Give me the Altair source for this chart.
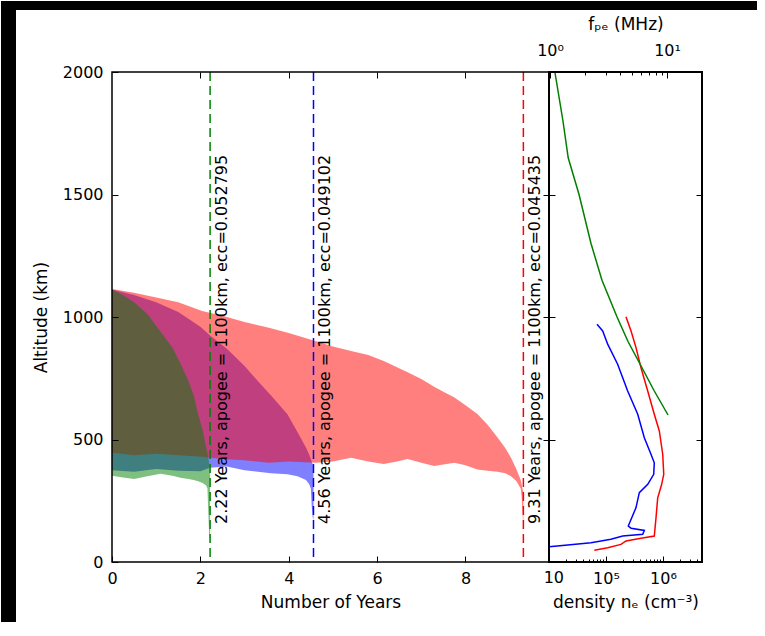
import altair as alt
import pandas as pd

# ---------------- data ----------------
# decay envelopes (years, upper altitude, lower altitude) in km
green_years = [0, 0.25, 0.5, 0.8, 1.1, 1.37, 1.55, 1.73, 1.85, 1.95, 2.05, 2.13, 2.16, 2.18, 2.20, 2.22]
green_top = [1112, 1090, 1060, 1012, 940, 875, 810, 739, 680, 603, 540, 467, 445, 425, 400, 380]
green_bottom = [352, 345, 339, 350, 360, 352, 344, 339, 335, 330, 322, 312, 300, 200, 110, 80]

blue_years = [0, 0.5, 1.0, 1.5, 2.0, 2.22, 2.6, 3.0, 3.3, 3.6, 3.97, 4.2, 4.39, 4.46, 4.50, 4.52, 4.54, 4.56]
blue_top = [1112, 1090, 1060, 1020, 960, 925, 870, 800, 739, 680, 603, 530, 467, 440, 420, 410, 400, 390]
blue_bottom = [375, 368, 380, 372, 370, 385, 390, 375, 368, 362, 358, 350, 335, 318, 300, 230, 185, 170]

red_years = [0, 0.5, 1.0, 1.5, 2.04, 2.5, 3.0, 3.55, 4.0, 4.6, 5.0, 5.41, 5.8, 6.15, 6.45,
             6.69, 7.0, 7.29, 7.5, 7.75, 8.0, 8.27, 8.5, 8.73, 8.9, 9.03, 9.15, 9.25, 9.27, 9.29, 9.31]
red_top = [1114, 1099, 1080, 1060, 1024, 1005, 980, 956, 935, 902, 880, 861, 845, 820, 795,
           775, 747, 715, 695, 671, 640, 604, 560, 507, 465, 426, 380, 335, 318, 300, 285]
red_bottom = [446, 436, 442, 436, 430, 420, 415, 405, 410, 405, 410, 426, 410, 400, 410,
              420, 405, 392, 398, 405, 395, 378, 372, 368, 362, 350, 331, 300, 270, 200, 140]

lifetimes = [2.22, 4.56, 9.31]
life_labels = ["2.22 Years, apogee = 1100km, ecc=0.052795",
               "4.56 Years, apogee = 1100km, ecc=0.049102",
               "9.31 Years, apogee = 1100km, ecc=0.045435"]
life_series = ["green", "blue", "red"]

# density profiles (cm^-3) vs altitude (km)
blue_ne = [6.95e4, 8.75e4, 1.07e5, 1.60e5, 2.40e5, 3.60e5, 4.70e5, 6.15e5, 7.03e5, 6.87e5, 5.40e5,
           3.84e5, 3.36e5, 2.46e5, 2.75e5, 4.70e5, 4.41e5, 1.96e5, 1.22e5, 5.46e4, 2.13e4, 1.01e4, 4.8e3]
blue_ne_alt = [970, 943, 889, 807, 698, 603, 507, 440, 405, 358, 317, 283, 222, 147, 138, 129, 113,
               106, 93, 79, 69, 62, 57]
red_ne = [2.24e5, 2.75e5, 3.36e5, 4.11e5, 5.39e5, 7.03e5, 8.61e5, 9.88e5, 1.03e6, 9.48e5, 8.07e5,
          7.54e5, 7.03e5, 4.11e5, 2.24e5, 1.83e5, 1.07e5, 6.24e4]
red_ne_alt = [1001, 943, 875, 793, 698, 603, 535, 440, 358, 317, 262, 181, 106, 97, 86, 72, 58, 48]
# plasma frequency profile (MHz) vs altitude (km)
green_fpe = [1.10, 1.29, 1.43, 1.77, 2.24, 2.78, 3.74, 4.64, 6.00, 7.74, 10.2]
green_fpe_alt = [2000, 1800, 1650, 1500, 1300, 1150, 1000, 900, 800, 700, 600]

# ticks
year_ticks = [0, 2, 4, 6, 8, 10]
alt_ticks = [0, 500, 1000, 1500, 2000]
density_major = [1e5, 1e6]
density_minor = [2e4, 3e4, 4e4, 5e4, 6e4, 7e4, 8e4, 9e4,
                 2e5, 3e5, 4e5, 5e5, 6e5, 7e5, 8e5, 9e5, 2e6, 3e6, 4e6]
fpe_major = [1, 10]
fpe_minor = [2, 3, 4, 5, 6, 7, 8, 9]

# ---------------- styles ----------------
COL = {"green": "#008000", "blue": "#0000ff", "red": "#ff0000"}
FONT = "DejaVu Sans"
W1, W2, H = 437, 153, 490
X_MAX = 9.89
DEN_DOM = [1e4, 4.83e6]
FPE_DOM = [0.98, 19.9]

xs = alt.Scale(domain=[0, X_MAX], nice=False, zero=False)
ys = alt.Scale(domain=[0, 2000], nice=False, zero=False)
dens = alt.Scale(type="log", domain=DEN_DOM, nice=False)
fpes = alt.Scale(type="log", domain=FPE_DOM, nice=False)

common = dict(domain=False, grid=False, labelFlush=False, labelOverlap=False, zindex=2)


def tick_axis(orient, values, size=6, **kw):
    return alt.Axis(orient=orient, values=values, labels=False, title=None,
                    tickSize=size, offset=-size, **common, **kw)


# ---------------- main panel ----------------
# dark frame bands of the original screenshot (top and left edges)
one = pd.DataFrame({"k": [0]})
band_top = alt.Chart(one).mark_rect(color="black").encode(
    x=alt.value(-111), x2=alt.value(W1), y=alt.value(-71), y2=alt.value(-62))
band_left = alt.Chart(one).mark_rect(color="black").encode(
    x=alt.value(-111), x2=alt.value(-96), y=alt.value(-71), y2=alt.value(550))
band_top_right = alt.Chart(one).mark_rect(color="black").encode(
    x=alt.value(0), x2=alt.value(208), y=alt.value(-71), y2=alt.value(-62))


def area_df(years, top, bottom):
    return pd.DataFrame({"year": years, "top": top, "bottom": bottom})


bottom_axis = alt.Axis(orient="bottom", values=year_ticks[:-1], format="d", title="Number of Years",
                       tickSize=6, offset=-6, labelPadding=8, titlePadding=8, **common)
left_axis = alt.Axis(orient="left", values=alt_ticks, format="d", title="Altitude (km)",
                     tickSize=6, offset=-6, labelPadding=9, titlePadding=12, **common)

blue_area = alt.Chart(area_df(blue_years, blue_top, blue_bottom)).mark_area(
    color=COL["blue"], opacity=0.5).encode(
    x=alt.X("year:Q", scale=xs, axis=bottom_axis),
    y=alt.Y("top:Q", scale=ys, axis=left_axis), y2="bottom:Q")
red_area = alt.Chart(area_df(red_years, red_top, red_bottom)).mark_area(
    color=COL["red"], opacity=0.5).encode(
    x=alt.X("year:Q", scale=xs, axis=tick_axis("top", year_ticks[1:-1])),
    y=alt.Y("top:Q", scale=ys, axis=tick_axis("right", alt_ticks[1:-1])), y2="bottom:Q")
green_area = alt.Chart(area_df(green_years, green_top, green_bottom)).mark_area(
    color=COL["green"], opacity=0.5).encode(
    x=alt.X("year:Q", scale=xs, axis=None),
    y=alt.Y("top:Q", scale=ys, axis=None), y2="bottom:Q")

life_df = pd.DataFrame({"x": lifetimes, "label": life_labels,
                        "c": [COL[s] for s in life_series]})
life_df["tx"] = life_df["x"] + 0.08
life_df["ty"] = 155

rules = alt.Chart(life_df).mark_rule(strokeDash=[9, 5], strokeWidth=1.5).encode(
    x=alt.X("x:Q", scale=xs, axis=None), color=alt.Color("c:N", scale=None))
texts = alt.Chart(life_df).mark_text(angle=270, align="left", baseline="top", fontSize=16,
                                     font=FONT, color="black").encode(
    x=alt.X("tx:Q", scale=xs, axis=None), y=alt.Y("ty:Q", scale=ys, axis=None), text="label:N")
ten = alt.Chart(pd.DataFrame({"x": [year_ticks[-1]], "t": [str(year_ticks[-1])]})).mark_text(
    baseline="top", align="center", fontSize=16, font=FONT, color="black").encode(
    x=alt.X("x:Q", scale=xs, axis=None), y=alt.value(H + 8), text="t:N")
frame1 = alt.Chart(pd.DataFrame({"x0": [0], "x1": [X_MAX], "y0": [0], "y1": [2000]})).mark_rect(
    fillOpacity=0, stroke="black", strokeWidth=1.5).encode(
    x=alt.X("x0:Q", scale=xs, axis=None), x2="x1:Q",
    y=alt.Y("y0:Q", scale=ys, axis=None), y2="y1:Q")

main = alt.layer(band_top, band_left, blue_area, red_area, green_area, rules, texts, ten,
                 frame1).resolve_axis(x="independent", y="independent").properties(width=W1, height=H)

# ---------------- density panel ----------------
def prof_df(xv, yv):
    return pd.DataFrame({"v": xv, "alt": yv, "i": list(range(len(xv)))})


dens_axis = alt.Axis(orient="bottom", values=density_major, title="density nₑ (cm⁻³)",
                     labelExpr="datum.value >= 1e6 ? '10⁶' : '10⁵'",
                     tickSize=6, offset=-6, labelPadding=8, titlePadding=8, **common)
fpe_axis = alt.Axis(orient="top", values=fpe_major, title="fₚₑ (MHz)",
                    labelExpr="datum.value >= 10 ? '10¹' : '10⁰'",
                    tickSize=6, offset=-6, labelPadding=14, titlePadding=9, **common)

blue_line = alt.Chart(prof_df(blue_ne, blue_ne_alt)).mark_line(
    color=COL["blue"], strokeWidth=1.5, clip=True).encode(
    x=alt.X("v:Q", scale=dens, axis=dens_axis),
    y=alt.Y("alt:Q", scale=ys, axis=tick_axis("left", alt_ticks[1:-1])), order="i:Q")
red_line = alt.Chart(prof_df(red_ne, red_ne_alt)).mark_line(
    color=COL["red"], strokeWidth=1.5, clip=True).encode(
    x=alt.X("v:Q", scale=dens, axis=tick_axis("bottom", density_minor, size=3)),
    y=alt.Y("alt:Q", scale=ys, axis=tick_axis("right", alt_ticks[1:-1])), order="i:Q")
green_line = alt.Chart(prof_df(green_fpe, green_fpe_alt)).mark_line(
    color=COL["green"], strokeWidth=1.5, clip=True).encode(
    x=alt.X("v:Q", scale=fpes, axis=fpe_axis),
    y=alt.Y("alt:Q", scale=ys, axis=None), order="i:Q")
fpe_minor_layer = alt.Chart(pd.DataFrame({"v": fpe_minor})).mark_point(opacity=0).encode(
    x=alt.X("v:Q", scale=fpes, axis=tick_axis("top", fpe_minor, size=3)))
frame2 = alt.Chart(pd.DataFrame({"x0": [DEN_DOM[0]], "x1": [DEN_DOM[1]], "y0": [0], "y1": [2000]})).mark_rect(
    fillOpacity=0, stroke="black", strokeWidth=2).encode(
    x=alt.X("x0:Q", scale=dens, axis=None), x2="x1:Q",
    y=alt.Y("y0:Q", scale=ys, axis=None), y2="y1:Q")

right = alt.layer(band_top_right, blue_line, red_line, green_line, fpe_minor_layer, frame2).resolve_scale(
    x="independent").resolve_axis(x="independent", y="independent").properties(width=W2, height=H)

chart = alt.hconcat(main, right, spacing=0, bounds="flush").properties(
    background="white", padding={"left": 0, "top": 0, "right": 0, "bottom": 0}
).configure_view(stroke="transparent").configure_axis(
    labelFont=FONT, titleFont=FONT, labelFontSize=16, titleFontSize=17,
    titleFontWeight="normal", labelColor="black", titleColor="black",
    tickColor="black", tickWidth=1
)

chart.save("out.html", embed_options={"renderer": "svg", "actions": False})
